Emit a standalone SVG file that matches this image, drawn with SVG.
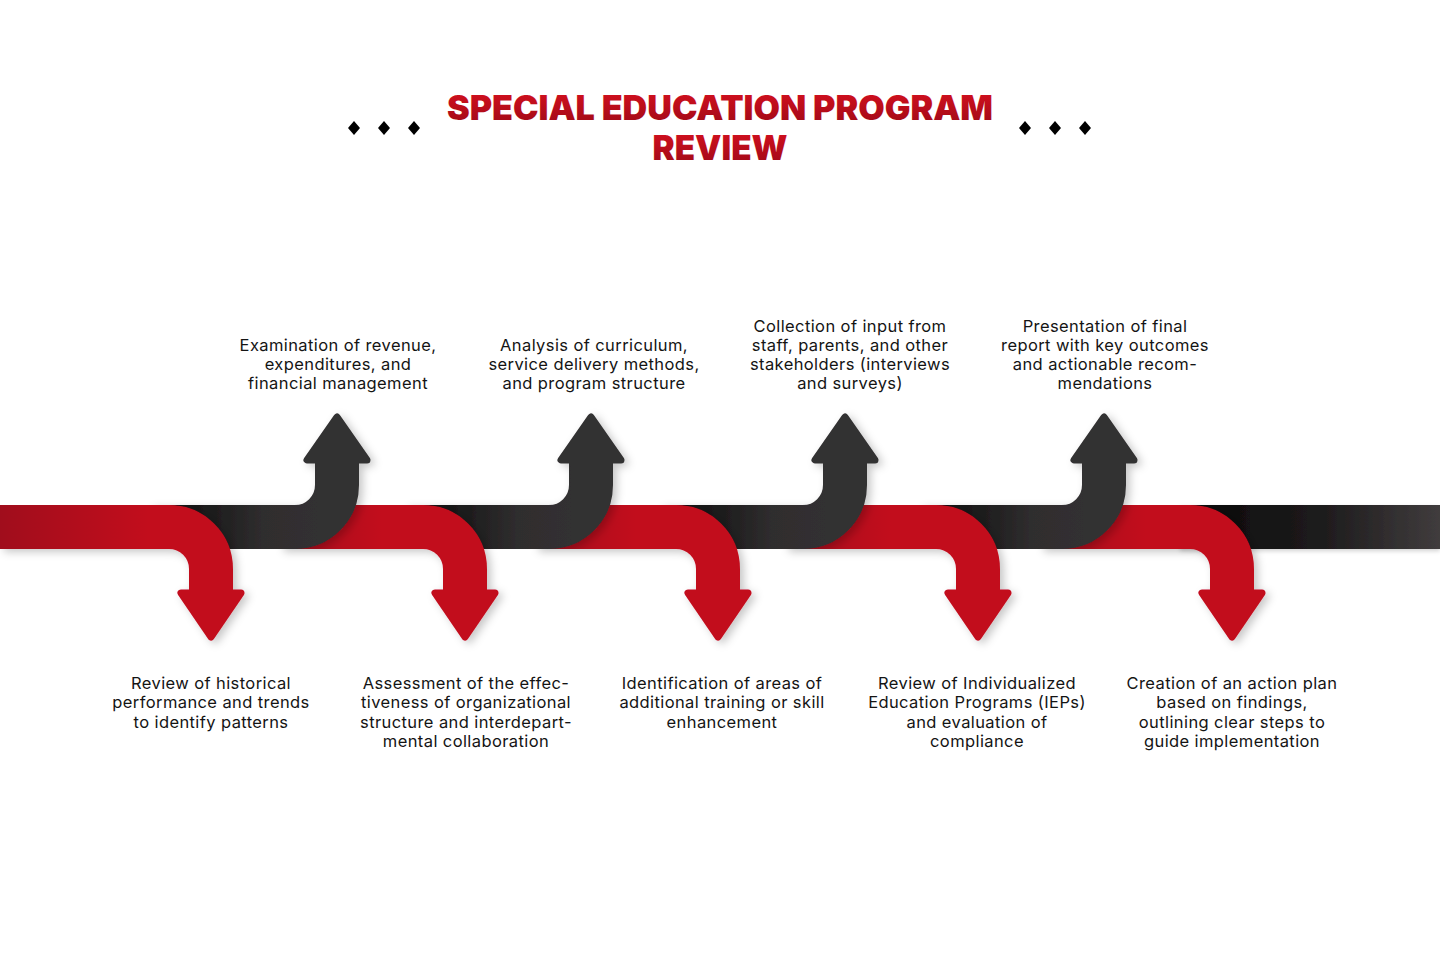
<svg xmlns="http://www.w3.org/2000/svg" width="1440" height="960" viewBox="0 0 1440 960">
<defs>
<style>
.lbl{font-family:Inter,"Open Sans","Liberation Sans",sans-serif;font-size:16.5px;letter-spacing:0.4px;fill:#141414;text-anchor:middle}
.title{font-family:Inter,"Open Sans","Liberation Sans",sans-serif;font-weight:900;font-size:34px;fill:url(#gTitle);text-anchor:middle}
.rs{fill:none;stroke:url(#gRed);stroke-width:44}
.ds{fill:none;stroke:url(#gDark);stroke-width:44}
.rh{fill:#c20b1e;stroke:#c20b1e;stroke-width:7;stroke-linejoin:round}
.dh{fill:#333132;stroke:#333132;stroke-width:7;stroke-linejoin:round}
.dia{fill:#000}
</style>
<linearGradient id="gTitle" x1="0" y1="0" x2="0" y2="1">
<stop offset="0" stop-color="#d8101f"/><stop offset="1" stop-color="#9c0a17"/>
</linearGradient>
<linearGradient id="gRed" x1="0" y1="0" x2="1" y2="0">
<stop offset="0" stop-color="#a40c1d"/><stop offset="0.55" stop-color="#c20b1e"/><stop offset="1" stop-color="#c20b1e"/>
</linearGradient>
<linearGradient id="gRed1" x1="0" y1="0" x2="1" y2="0">
<stop offset="0" stop-color="#a00c1c"/><stop offset="0.7" stop-color="#c20b1e"/><stop offset="1" stop-color="#c20b1e"/>
</linearGradient>
<linearGradient id="gDark" x1="0" y1="0" x2="1" y2="0">
<stop offset="0" stop-color="#080808"/><stop offset="0.6" stop-color="#2f2d2e"/><stop offset="1" stop-color="#333132"/>
</linearGradient>
<linearGradient id="gEnd" gradientUnits="userSpaceOnUse" x1="1180" y1="0" x2="1440" y2="0">
<stop offset="0" stop-color="#080808"/><stop offset="0.55" stop-color="#1e1c1d"/><stop offset="1" stop-color="#403c3d"/>
</linearGradient>
<filter id="sh" x="-20%" y="-20%" width="140%" height="140%">
<feDropShadow dx="4" dy="3" stdDeviation="4" flood-color="#000" flood-opacity="0.22"/>
</filter>
<filter id="shU" filterUnits="userSpaceOnUse" x="1160" y="490" width="300" height="80">
<feDropShadow dx="0" dy="2" stdDeviation="2" flood-color="#000" flood-opacity="0.18"/>
</filter>
</defs>
<rect width="1440" height="960" fill="#fff"/>

<g id="title">
<text class="title" x="720" y="120" textLength="546" lengthAdjust="spacingAndGlyphs">SPECIAL EDUCATION PROGRAM</text>
<text class="title" x="720" y="160" textLength="135" lengthAdjust="spacingAndGlyphs">REVIEW</text>
<g id="diamonds">
<path class="dia" d="M354 121 L360 128 L354 135 L348 128Z"/>
<path class="dia" d="M384 121 L390 128 L384 135 L378 128Z"/>
<path class="dia" d="M414 121 L420 128 L414 135 L408 128Z"/>
<path class="dia" d="M1025 121 L1031 128 L1025 135 L1019 128Z"/>
<path class="dia" d="M1055 121 L1061 128 L1055 135 L1049 128Z"/>
<path class="dia" d="M1085 121 L1091 128 L1085 135 L1079 128Z"/>
</g>
</g>

<g id="connectors">
<g id="band-end" filter="url(#shU)">
<rect x="1180" y="505" width="260" height="44" fill="url(#gEnd)"/>
</g>
<g id="arrow-r5" filter="url(#sh)">
<path class="rs" d="M1040 527 H1190 A42 42 0 0 1 1232 569 V596"/>
<path class="rh" d="M1202 593 H1262 L1232 637Z"/>
</g>
<g id="arrow-d4" filter="url(#sh)">
<path class="ds" d="M920 527 H1062 A42 42 0 0 0 1104 485 V458"/>
<path class="dh" d="M1074 460 H1134 L1104 417Z"/>
</g>
<g id="arrow-r4" filter="url(#sh)">
<path class="rs" d="M785 527 H936 A42 42 0 0 1 978 569 V596"/>
<path class="rh" d="M948 593 H1008 L978 637Z"/>
</g>
<g id="arrow-d3" filter="url(#sh)">
<path class="ds" d="M660 527 H803 A42 42 0 0 0 845 485 V458"/>
<path class="dh" d="M815 460 H875 L845 417Z"/>
</g>
<g id="arrow-r3" filter="url(#sh)">
<path class="rs" d="M535 527 H676 A42 42 0 0 1 718 569 V596"/>
<path class="rh" d="M688 593 H748 L718 637Z"/>
</g>
<g id="arrow-d2" filter="url(#sh)">
<path class="ds" d="M405 527 H549 A42 42 0 0 0 591 485 V458"/>
<path class="dh" d="M561 460 H621 L591 417Z"/>
</g>
<g id="arrow-r2" filter="url(#sh)">
<path class="rs" d="M280 527 H423 A42 42 0 0 1 465 569 V596"/>
<path class="rh" d="M435 593 H495 L465 637Z"/>
</g>
<g id="arrow-d1" filter="url(#sh)">
<path class="ds" d="M150 527 H295 A42 42 0 0 0 337 485 V458"/>
<path class="dh" d="M307 460 H367 L337 417Z"/>
</g>
<g id="arrow-r1" filter="url(#sh)">
<path d="M0 527 H169 A42 42 0 0 1 211 569 V596" fill="none" stroke="url(#gRed1)" stroke-width="44"/>
<path class="rh" d="M181 593 H241 L211 637Z"/>
</g>
</g>

<g id="node-top1">
<text class="lbl" x="338" y="351">Examination of revenue,</text>
<text class="lbl" x="338" y="370">expenditures, and</text>
<text class="lbl" x="338" y="389">financial management</text>
</g>
<g id="node-top2">
<text class="lbl" x="594" y="351">Analysis of curriculum,</text>
<text class="lbl" x="594" y="370">service delivery methods,</text>
<text class="lbl" x="594" y="389">and program structure</text>
</g>
<g id="node-top3">
<text class="lbl" x="850" y="332">Collection of input from</text>
<text class="lbl" x="850" y="351">staff, parents, and other</text>
<text class="lbl" x="850" y="370">stakeholders (interviews</text>
<text class="lbl" x="850" y="389">and surveys)</text>
</g>
<g id="node-top4">
<text class="lbl" x="1105" y="332">Presentation of final</text>
<text class="lbl" x="1105" y="351">report with key outcomes</text>
<text class="lbl" x="1105" y="370">and actionable recom-</text>
<text class="lbl" x="1105" y="389">mendations</text>
</g>
<g id="node-bot1">
<text class="lbl" x="211" y="689">Review of historical</text>
<text class="lbl" x="211" y="708">performance and trends</text>
<text class="lbl" x="211" y="728">to identify patterns</text>
</g>
<g id="node-bot2">
<text class="lbl" x="466" y="689">Assessment of the effec-</text>
<text class="lbl" x="466" y="708">tiveness of organizational</text>
<text class="lbl" x="466" y="728">structure and interdepart-</text>
<text class="lbl" x="466" y="747">mental collaboration</text>
</g>
<g id="node-bot3">
<text class="lbl" x="722" y="689">Identification of areas of</text>
<text class="lbl" x="722" y="708">additional training or skill</text>
<text class="lbl" x="722" y="728">enhancement</text>
</g>
<g id="node-bot4">
<text class="lbl" x="977" y="689">Review of Individualized</text>
<text class="lbl" x="977" y="708">Education Programs (IEPs)</text>
<text class="lbl" x="977" y="728">and evaluation of</text>
<text class="lbl" x="977" y="747">compliance</text>
</g>
<g id="node-bot5">
<text class="lbl" x="1232" y="689">Creation of an action plan</text>
<text class="lbl" x="1232" y="708">based on findings,</text>
<text class="lbl" x="1232" y="728">outlining clear steps to</text>
<text class="lbl" x="1232" y="747">guide implementation</text>
</g>
</svg>
